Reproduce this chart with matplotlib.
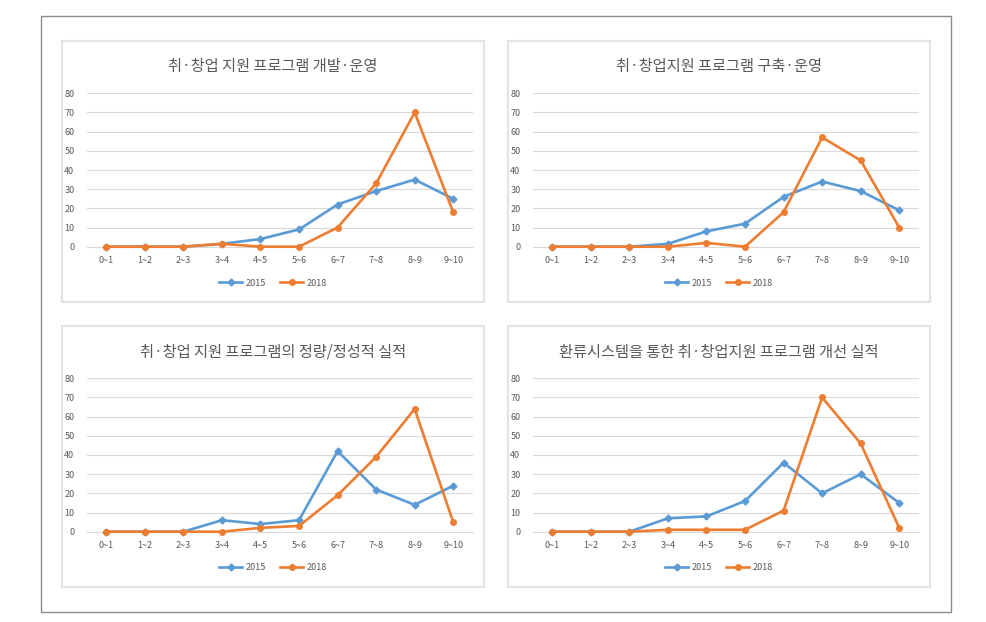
import matplotlib
matplotlib.use("Agg")
import matplotlib.pyplot as plt
from matplotlib.patches import Rectangle

plt.rcParams['font.family'] = ['Noto Sans CJK KR', 'DejaVu Sans']

categories = ["0~1", "1~2", "2~3", "3~4", "4~5", "5~6", "6~7", "7~8", "8~9", "9~10"]
series_names = ["2015", "2018"]
titles = [
    "취·창업 지원 프로그램 개발·운영",
    "취·창업지원 프로그램 구축·운영",
    "취·창업 지원 프로그램의 정량/정성적 실적",
    "환류시스템을 통한 취·창업지원 프로그램 개선 실적",
]
p1_2015 = [0, 0, 0, 1.5, 4, 9, 22, 29, 35, 25]
p1_2018 = [0, 0, 0, 1.5, 0, 0, 10, 33, 70, 18]
p2_2015 = [0, 0, 0, 1.5, 8, 12, 26, 34, 29, 19]
p2_2018 = [0, 0, 0, 0, 2, 0, 18, 57, 45, 10]
p3_2015 = [0, 0, 0, 6, 4, 6, 42, 22, 14, 24]
p3_2018 = [0, 0, 0, 0, 2, 3, 19, 39, 64, 5]
p4_2015 = [0, 0, 0, 7, 8, 16, 36, 20, 30, 15]
p4_2018 = [0, 0, 0, 1, 1, 1, 11, 70, 46, 2]
yticks = [0, 10, 20, 30, 40, 50, 60, 70, 80]

panels = [(p1_2015, p1_2018), (p2_2015, p2_2018), (p3_2015, p3_2018), (p4_2015, p4_2018)]

W, H = 986, 622
fig = plt.figure(figsize=(W / 100, H / 100), dpi=100)
fig.patch.set_facecolor("white")

# outer frame
fig.patches.append(Rectangle((40.5 / W, 1 - 612 / H), 910.5 / W, 596 / H,
                             transform=fig.transFigure, fill=False,
                             edgecolor="#8C8C8C", linewidth=1.0))

blue = "#5B9BD5"
orange = "#ED7D31"
text_col = "#595959"
grid_col = "#D9D9D9"

offsets = [(0, 0), (446, 0), (0, 285), (446, 285)]
x_idx = list(range(len(categories)))

for i, ((s15, s18), (dx, dy)) in enumerate(zip(panels, offsets)):
    # panel border
    fig.patches.append(Rectangle(((62 + dx) / W, 1 - (302 + dy) / H), 422 / W, 261 / H,
                                 transform=fig.transFigure, fill=False,
                                 edgecolor="#E3E3E3", linewidth=1.5))
    left = (87 + dx) / W
    right = (472.5 + dx) / W
    bottom = 1 - (246.7 + dy) / H
    top = 1 - (93.3 + dy) / H
    ax = fig.add_axes([left, bottom, right - left, top - bottom])
    ax.set_xlim(-0.5, len(categories) - 0.5)
    ax.set_ylim(0, 80)
    ax.set_yticks(yticks)
    ax.set_xticks(x_idx)
    ax.set_xticklabels(categories)
    ax.grid(axis="y", color=grid_col, linewidth=0.8)
    ax.set_axisbelow(True)
    for side in ["top", "right", "left"]:
        ax.spines[side].set_visible(False)
    ax.spines["bottom"].set_color(grid_col)
    ax.spines["bottom"].set_linewidth(0.8)
    ax.tick_params(axis="both", length=0, labelsize=6.5, labelcolor=text_col)
    ax.tick_params(axis="y", pad=9)
    ax.tick_params(axis="x", pad=7)
    ax.plot(x_idx, s15, color=blue, linewidth=1.9, marker="D", markersize=3.5,
            label=series_names[0], clip_on=False, zorder=3)
    ax.plot(x_idx, s18, color=orange, linewidth=1.9, marker="o", markersize=4,
            label=series_names[1], clip_on=False, zorder=4)
    fig.text((273 + dx) / W, 1 - (67 + dy) / H, titles[i], ha="center", va="center",
             fontsize=11, color=text_col)
    ax.legend(loc="center", bbox_to_anchor=((273 + dx) / W, 1 - (283 + dy) / H),
              bbox_transform=fig.transFigure, ncol=2, frameon=False, fontsize=6.5,
              handlelength=2.6, columnspacing=1.5, handletextpad=0.4, labelcolor=text_col)

fig.savefig("out.png", dpi=100, facecolor="white")
